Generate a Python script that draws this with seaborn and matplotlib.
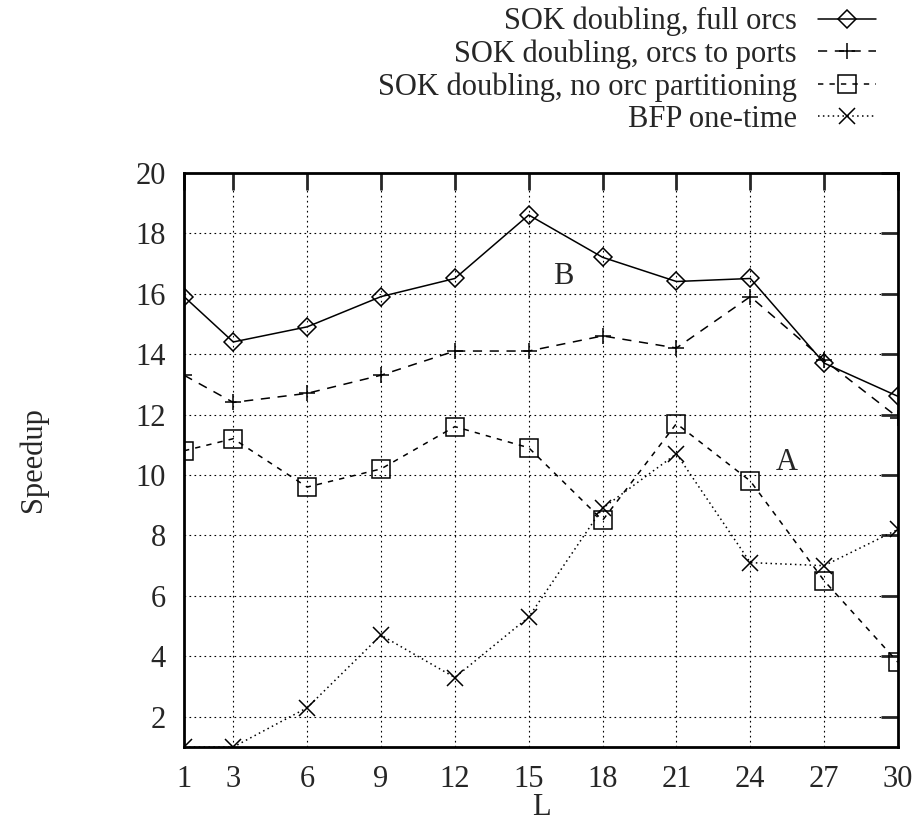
import numpy as np
import pandas as pd
import seaborn as sns
import matplotlib
matplotlib.use("Agg")
import matplotlib.pyplot as plt
from matplotlib.legend_handler import HandlerLine2D

# data
L = [1, 3, 6, 9, 12, 15, 18, 21, 24, 27, 30]
full_orcs = [15.9, 14.4, 14.9, 15.9, 16.5, 18.6, 17.2, 16.4, 16.5, 13.7, 12.6]
orcs_to_ports = [13.3, 12.4, 12.7, 13.3, 14.1, 14.1, 14.6, 14.2, 15.9, 13.8, 11.9]
no_orc_part = [10.8, 11.2, 9.6, 10.2, 11.6, 10.9, 8.5, 11.7, 9.8, 6.5, 3.8]
bfp_one_time = [1.0, 1.0, 2.3, 4.7, 3.3, 5.3, 8.9, 10.7, 7.1, 7.0, 8.2]

labels = ["SOK doubling, full orcs", "SOK doubling, orcs to ports",
          "SOK doubling, no orc partitioning", "BFP one-time"]
yticks = [2, 4, 6, 8, 10, 12, 14, 16, 18, 20]

FS = 22


# gnuplot style key: marker sits left of the sample line's centre
class LeftMarker(HandlerLine2D):
    def get_xdata(self, legend, xdescent, ydescent, width, height, fontsize):
        xdata = np.array([-xdescent, -xdescent + width])
        return xdata, np.array([-xdescent + width * 0.35])


sns.set_style("white")
plt.rcParams["font.family"] = ["Liberation Serif", "DejaVu Serif"]

fig = plt.figure(figsize=(9.16, 8.25), dpi=100)
ax = fig.add_axes([0.2009, 0.0945, 0.7795, 0.6962])

styles = [
    (full_orcs, "D", "-", 8.7),
    (orcs_to_ports, "+", (0, (6, 5)), 12),
    (no_orc_part, "s", (0, (3.5, 4)), 12.5),
    (bfp_one_time, "x", (0, (1, 2.2)), 12),
]
for (vals, mk, ls, ms), lab in zip(styles, labels):
    sns.lineplot(x=L, y=vals, ax=ax, color="black", linewidth=1.1,
                 linestyle=ls, marker=mk, markersize=ms,
                 markerfacecolor="none", markeredgecolor="black",
                 markeredgewidth=1.1, label=lab)

ax.set_xlim(1, 30)
ax.set_ylim(1, 20)
ax.set_xticks(L)
ax.set_yticks(yticks)
ax.grid(True, color="black", linestyle=(0, (1.5, 3)), linewidth=0.8)
ax.tick_params(direction="in", length=12, width=2, labelsize=FS,
               top=True, right=True)
ax.tick_params(axis="x", pad=13)
ax.tick_params(axis="y", pad=13)
for sp in ax.spines.values():
    sp.set_linewidth(2)
    sp.set_color("black")

ax.set_xlabel("L", fontsize=FS, labelpad=-1)
ax.set_ylabel("Speedup", fontsize=FS, labelpad=63)

ax.text(16.4, 16.55, "B", fontsize=FS, ha="center", va="center")
ax.text(25.5, 10.4, "A", fontsize=FS, ha="center", va="center")

handles, _ = ax.get_legend_handles_labels()
leg = ax.legend(handles, labels, loc="upper right",
                bbox_to_anchor=(876 / 916, 1 - 7 / 825),
                bbox_transform=fig.transFigure, frameon=False,
                markerfirst=False, fontsize=FS, handlelength=1.9,
                labelspacing=0.1, borderaxespad=0.0, borderpad=0.0,
                handletextpad=0.7,
                handler_map={h: LeftMarker() for h in handles})
for t in leg.get_texts():
    t.set_ha("right")

fig.savefig("out.png", dpi=100)
